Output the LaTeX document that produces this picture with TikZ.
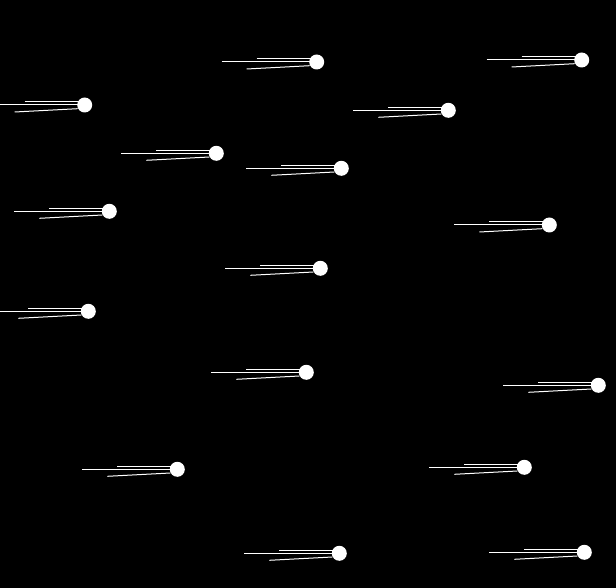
\documentclass[tikz,border=0pt]{standalone}
\begin{document}
\begin{tikzpicture}[x=1pt,y=-1pt,
  tail/.style={draw=white,line width=1pt},
  head/.style={fill=white},
  comet/.pic={
    \draw[tail] (-95,0) -- (0,0);
    \draw[tail] (-60,-3) -- (0,-3);
    \draw[tail] (-70,7) -- (-7,3.7);
    \fill[head] (0,0) circle[radius=7.5pt];
  }]
\fill[black] (0,0) rectangle (616,588);
\useasboundingbox (0,0) rectangle (616,588);
\begin{scope}
\clip (0,0) rectangle (616,588);
\foreach \cx/\cy in {316.7/62, 581.7/60, 84.7/105, 448.3/110.3, 216.3/153.3,
  341.3/168.3, 109.3/211.3, 549.3/225, 320.3/268.3, 88.3/311.3,
  306.3/372.3, 598.3/385.3, 177.3/469.3, 524.3/467.3, 339.3/553.3, 584.3/552.3}
  \pic at (\cx,\cy) {comet};
\end{scope}
\end{tikzpicture}
\end{document}
